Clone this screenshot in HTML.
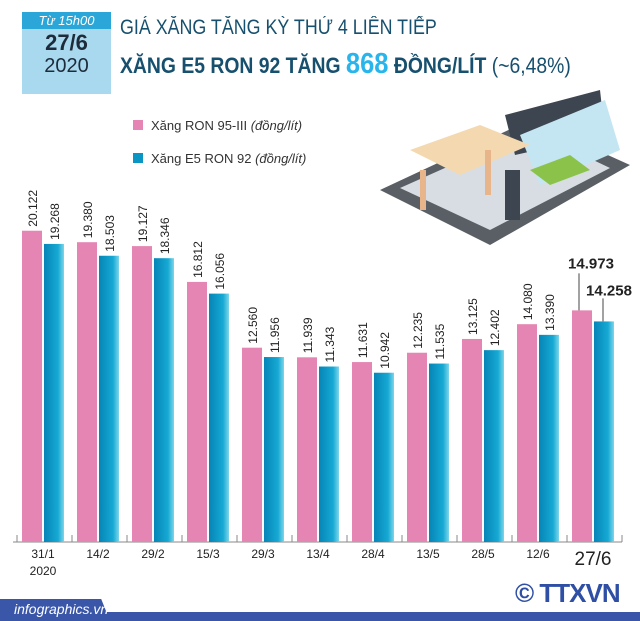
<!DOCTYPE html>
<html><head><meta charset="utf-8">
<style>
body{margin:0;width:640px;height:621px;overflow:hidden;background:#fff;font-family:"Liberation Sans","Noto Sans CJK SC",sans-serif;position:relative}
.abs{position:absolute}
</style></head><body>
<div class="abs" style="left:22px;top:12px;width:89px;height:82px;background:#a9d9ef">
  <div style="background:#2aa7d8;height:17px;color:#fff;font-style:italic;font-size:13px;text-align:center;line-height:17px">Từ 15h00</div>
  <div style="text-align:center;font-weight:bold;font-size:22px;color:#1d2b3a;line-height:24px;margin-top:2px">27/6</div>
  <div style="text-align:center;font-size:20px;color:#1d2b3a;line-height:22px">2020</div>
</div>
<div class="abs" style="left:120px;top:16px;font-size:21px;color:#17506e;transform:scaleX(0.85);transform-origin:left">GIÁ XĂNG TĂNG KỲ THỨ 4 LIÊN TIẾP</div>
<div class="abs" style="left:120px;top:48px;font-size:22px;color:#17506e;white-space:nowrap;transform:scaleX(0.88);transform-origin:left"><b>XĂNG E5 RON 92 TĂNG <span style="color:#29b5ec;font-size:29px">868</span> ĐỒNG/LÍT</b> (~6,48%)</div>
<div class="abs" style="left:133px;top:118px;font-size:13px;color:#333"><span style="display:inline-block;width:10px;height:10px;background:#e585b3;margin-right:8px"></span>Xăng RON 95-III <i>(đồng/lít)</i></div>
<div class="abs" style="left:133px;top:151px;font-size:13px;color:#333"><span style="display:inline-block;width:10px;height:10px;background:#0b95c4;margin-right:8px"></span>Xăng E5 RON 92 <i>(đồng/lít)</i></div>
<svg class="abs" style="left:380px;top:90px" width="250" height="160">
  <polygon points="0,100 150,30 250,75 110,155" fill="#5a5f66"/>
  <polygon points="20,98 150,40 230,78 110,140" fill="#d7dde3"/>
  <polygon points="125,25 220,0 225,45 135,65" fill="#3d4550"/>
  <polygon points="140,45 225,10 240,60 160,95" fill="#c4e6f3"/>
  <polygon points="30,60 100,35 150,55 80,85" fill="#f4d9b0"/>
  <rect x="40" y="80" width="6" height="40" fill="#e8b58a"/><rect x="105" y="60" width="6" height="45" fill="#e8b58a"/>
  <rect x="125" y="80" width="15" height="50" fill="#3d4550"/>
  <polygon points="150,80 190,65 210,80 170,95" fill="#8bc34a"/>
</svg>
<svg class="abs" id="chart" style="left:0;top:0" width="640" height="621">
  <defs><linearGradient id="bg" x1="0" x2="1"><stop offset="0" stop-color="#0585b7"/><stop offset="0.7" stop-color="#16a9d4"/><stop offset="1" stop-color="#7fd6ea"/></linearGradient></defs>
</svg>
<div class="abs" style="left:515px;top:578px;font-weight:bold;font-size:26px;color:#2f4fa5;letter-spacing:-1px">© TTXVN</div>
<div class="abs" style="left:0;top:599px;width:110px;height:22px;background:#3a56a8;clip-path:polygon(0 0,92% 0,100% 100%,0 100%)"></div>
<div class="abs" style="left:0;top:612px;width:640px;height:9px;background:#3a56a8"></div>
<div class="abs" style="left:14px;top:601px;color:#fff;font-style:italic;font-size:14px">infographics.vn</div>
<script>
const categories=["31/1","14/2","29/2","15/3","29/3","13/4","28/4","13/5","28/5","12/6","27/6"];
const ron95=[20.122,19.380,19.127,16.812,12.560,11.939,11.631,12.235,13.125,14.080,14.973];
const e5=[19.268,18.503,18.346,16.056,11.956,11.343,10.942,11.535,12.402,13.390,14.258];
const labels95=["20.122","19.380","19.127","16.812","12.560","11.939","11.631","12.235","13.125","14.080","14.973"];
const labelsE5=["19.268","18.503","18.346","16.056","11.956","11.343","10.942","11.535","12.402","13.390","14.258"];
const svg=document.getElementById('chart');const NS='http://www.w3.org/2000/svg';
const base=542,k=15.47;
const y=v=>base-v*k;const x=i=>22+i*55;
function mk(t,a){const e=document.createElementNS(NS,t);for(const n in a)e.setAttribute(n,a[n]);svg.appendChild(e);return e;}
const ax=mk('line',{x1:13,y1:base,x2:622,y2:base,stroke:'#888','stroke-width':1});


categories.forEach((c,i)=>{
  const last=i===categories.length-1;
  const r1=mk('rect',{x:x(i),y:y(ron95[i]),width:20,height:base-y(ron95[i]),fill:'#e585b3'});
  
  
  const r2=mk('rect',{x:x(i)+22,y:y(e5[i]),width:20,height:base-y(e5[i]),fill:'url(#bg)'});
  
  
  const tk=mk('line',{x1:x(i)-5,y1:base-7,x2:x(i)-5,y2:base,stroke:'#888'});
  
  
  if(last){
    const a=mk('text',{x:x(i)+19,y:y(ron95[i])-42,'text-anchor':'middle','font-size':15,'font-weight':'bold',fill:'#222'});a.textContent=labels95[i];
    
    
    const b=mk('text',{x:x(i)+37,y:y(e5[i])-26,'text-anchor':'middle','font-size':15,'font-weight':'bold',fill:'#222'});b.textContent=labelsE5[i];
    
    
    const l1=mk('line',{x1:x(i)+7,y1:y(ron95[i])-37,x2:x(i)+7,y2:y(ron95[i]),stroke:'#444'});
    
    
    const l2=mk('line',{x1:x(i)+31,y1:y(e5[i])-23,x2:x(i)+31,y2:y(e5[i]),stroke:'#444'});
    
    
  }else{
    [[labels95[i],ron95[i],x(i)+15],[labelsE5[i],e5[i],x(i)+37]].forEach(([t,v,xx])=>{
      const e=mk('text',{x:xx,y:y(v)-4,'font-size':12,fill:'#222',transform:`rotate(-90 ${xx} ${y(v)-4})`});e.textContent=t;
      
      
    });
  }
  const l=mk('text',{x:x(i)+21,y:last?565:558,'text-anchor':'middle','font-size':last?19:12,fill:'#222'});l.textContent=c;
  
  
});
mk('line',{x1:x(11)-5,y1:base-7,x2:x(11)-5,y2:base,stroke:'#888'});
const yr=mk('text',{x:43,y:575,'text-anchor':'middle','font-size':12,fill:'#222'});yr.textContent='2020';


</script>
</body></html>
